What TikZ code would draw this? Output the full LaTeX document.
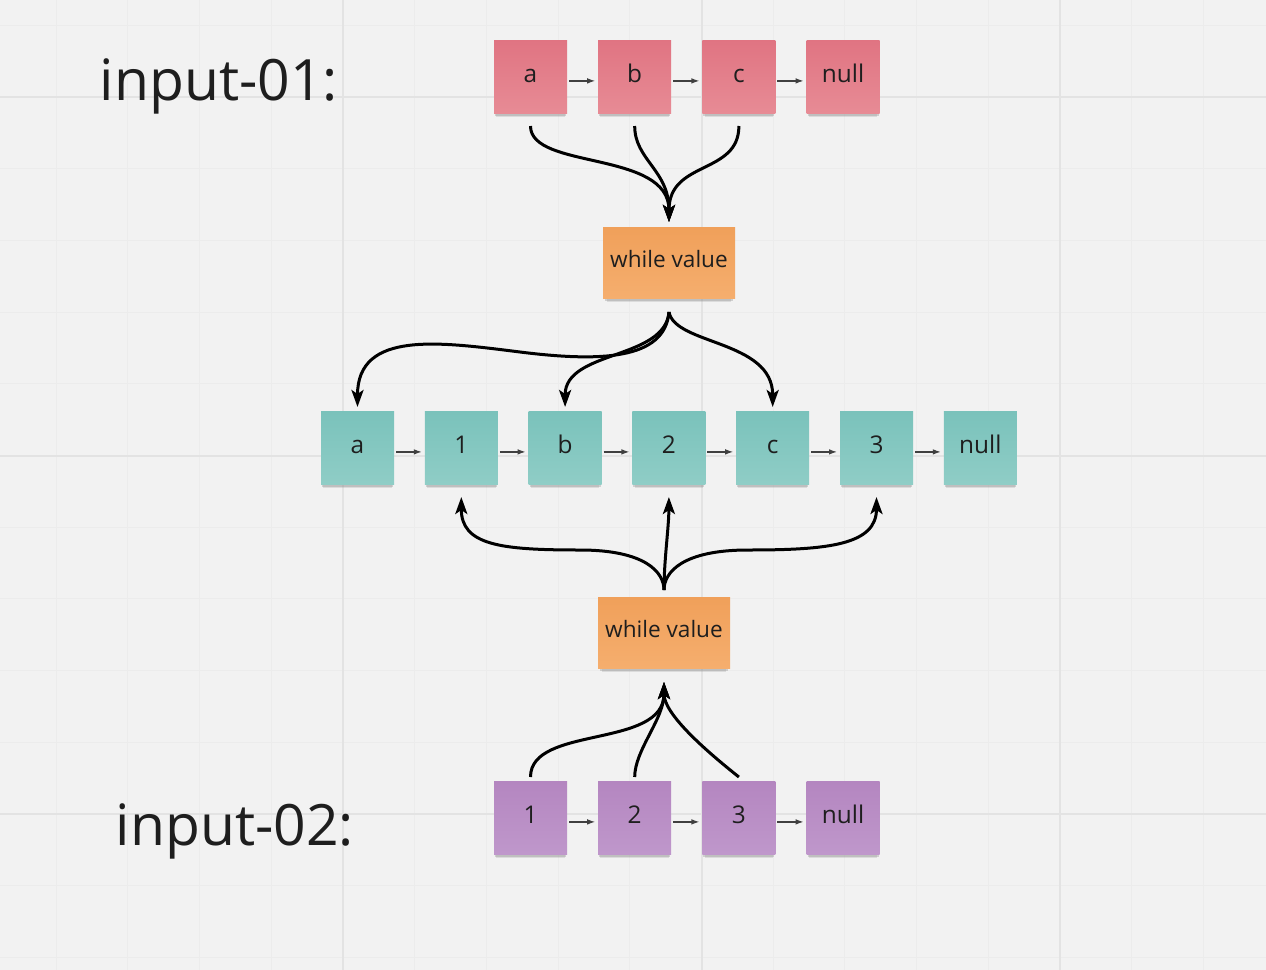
\documentclass[tikz,border=0pt]{standalone}
\usepackage{fontspec}
\setmainfont{Open Sans}
\usetikzlibrary{positioning,arrows.meta,shadows}

\definecolor{boardbg}{HTML}{F2F2F2}
\definecolor{gridminor}{HTML}{ECECEC}
\definecolor{gridmajor}{HTML}{E3E3E3}
\definecolor{inktext}{HTML}{1E1E1E}

\begin{document}
\begin{tikzpicture}[x=0.5pt,y=-0.5pt,node distance=15.6pt,
note/.style={minimum width=36.5pt,minimum height=36.5pt,inner sep=0pt,outer sep=0pt,text=inktext,font=\fontsize{12.2}{14}\selectfont,text height=6.2pt,text depth=0.5pt,drop shadow={shadow xshift=0pt,shadow yshift=-3.4pt,shadow scale=0.94,opacity=0.2},drop shadow={shadow xshift=0pt,shadow yshift=-2.2pt,shadow scale=0.97,opacity=0.3}},
pinknote/.style={note,top color={rgb,255:red,224;green,116;blue,130},bottom color={rgb,255:red,231;green,139;blue,149}},
tealnote/.style={note,top color={rgb,255:red,122;green,194;blue,187},bottom color={rgb,255:red,143;green,205;blue,198}},
purplenote/.style={note,top color={rgb,255:red,180;green,134;blue,192},bottom color={rgb,255:red,191;green,151;blue,203}},
loopnote/.style={note,minimum width=66pt,minimum height=35.5pt,font=\fontsize{11.3}{13}\selectfont,text height=5.8pt,top color={rgb,255:red,240;green,160;blue,90},bottom color={rgb,255:red,245;green,174;blue,110}},
biglabel/.style={text=inktext,font=\fontsize{28.5}{34}\selectfont,inner sep=0pt},
link/.style={line width=0.6pt,draw=black!75,-{Latex[length=4pt,width=2.8pt]}},
curve/.style={line width=1.5pt,-{Stealth[length=8.5pt,width=6pt,inset=2pt]}},
minorline/.style={draw=gridminor,line width=0.5pt},
majorline/.style={draw=gridmajor,line width=1pt}]

% board
\useasboundingbox[fill=boardbg] (0,0) rectangle (1266,970);
\foreach \k in {-4,...,12} \draw[minorline] ({343+71.7*\k},0) -- ({343+71.7*\k},970);
\foreach \k in {-1,...,12} \draw[minorline] (0,{97+71.7*\k}) -- (1266,{97+71.7*\k});
\foreach \k in {0,5,10} \draw[majorline] ({343+71.7*\k},0) -- ({343+71.7*\k},970);
\foreach \k in {0,5,10} \draw[majorline] (0,{97+71.7*\k}) -- (1266,{97+71.7*\k});

% labels
\node[biglabel,anchor=base] (in1) at (219,100) {input-01:};
\node[biglabel,anchor=base] (in2) at (235,845) {input-02:};

% input-01 list
\node[pinknote] (a1) at (530.5,76.5) {a};
\node[pinknote,right=of a1] (b1) {b};
\node[pinknote,right=of b1] (c1) {c};
\node[pinknote,right=of c1] (n1) {null};

% first loop
\node[loopnote] (w1) at (669,262.5) {while value};

% merged list
\node[tealnote] (ta) at (357.5,447.5) {a};
\node[tealnote,right=15.4pt of ta] (t1) {1};
\node[tealnote,right=15.4pt of t1] (tb) {b};
\node[tealnote,right=15.4pt of tb] (t2) {2};
\node[tealnote,right=15.4pt of t2] (tc) {c};
\node[tealnote,right=15.4pt of tc] (t3) {3};
\node[tealnote,right=15.4pt of t3] (tn) {null};

% second loop
\node[loopnote] (w2) at (664,632.5) {while value};

% input-02 list
\node[purplenote] (p1) at (530.5,817.5) {1};
\node[purplenote,right=of p1] (p2) {2};
\node[purplenote,right=of p2] (p3) {3};
\node[purplenote,right=of p3] (pn) {null};

% next pointers
\draw[link] ([xshift=1pt,yshift=-2.2pt]a1.east) -- ([xshift=-1.5pt,yshift=-2.2pt]b1.west);
\draw[link] ([xshift=1pt,yshift=-2.2pt]b1.east) -- ([xshift=-1.5pt,yshift=-2.2pt]c1.west);
\draw[link] ([xshift=1pt,yshift=-2.2pt]c1.east) -- ([xshift=-1.5pt,yshift=-2.2pt]n1.west);
\draw[link] ([xshift=1pt,yshift=-2.2pt]ta.east) -- ([xshift=-1.5pt,yshift=-2.2pt]t1.west);
\draw[link] ([xshift=1pt,yshift=-2.2pt]t1.east) -- ([xshift=-1.5pt,yshift=-2.2pt]tb.west);
\draw[link] ([xshift=1pt,yshift=-2.2pt]tb.east) -- ([xshift=-1.5pt,yshift=-2.2pt]t2.west);
\draw[link] ([xshift=1pt,yshift=-2.2pt]t2.east) -- ([xshift=-1.5pt,yshift=-2.2pt]tc.west);
\draw[link] ([xshift=1pt,yshift=-2.2pt]tc.east) -- ([xshift=-1.5pt,yshift=-2.2pt]t3.west);
\draw[link] ([xshift=1pt,yshift=-2.2pt]t3.east) -- ([xshift=-1.5pt,yshift=-2.2pt]tn.west);
\draw[link] ([xshift=1pt,yshift=-2.2pt]p1.east) -- ([xshift=-1.5pt,yshift=-2.2pt]p2.west);
\draw[link] ([xshift=1pt,yshift=-2.2pt]p2.east) -- ([xshift=-1.5pt,yshift=-2.2pt]p3.west);
\draw[link] ([xshift=1pt,yshift=-2.2pt]p3.east) -- ([xshift=-1.5pt,yshift=-2.2pt]pn.west);

% input-01 into first loop
\draw[curve] ([yshift=-6.5pt]a1.south) .. controls +(0,44) and +(0,-72) .. ([yshift=2.5pt]w1.north);
\draw[curve] ([yshift=-6.5pt]b1.south) .. controls +(0,34) and +(0,-52) .. ([yshift=2.5pt]w1.north);
\draw[curve] ([yshift=-6.5pt]c1.south) .. controls +(0,49) and +(0,-62) .. ([yshift=2.5pt]w1.north);

% first loop into merged list
\draw[curve] ([yshift=-7pt]w1.south) .. controls +(-4,48) and +(80,10) .. (520,352) .. controls +(-80,-10) and +(0,-77) .. ([yshift=2pt]ta.north);
\draw[curve] ([yshift=-7pt]w1.south) .. controls +(-4,48) and +(0,-57) .. ([yshift=2pt]tb.north);
\draw[curve] ([yshift=-7pt]w1.south) .. controls +(6,33) and +(0,-67) .. ([yshift=2pt]tc.north);

% second loop into merged list
\draw[curve] ([yshift=3.5pt]w2.north) .. controls +(0,-18) and +(65,0) .. (580,550) .. controls +(-80,0) and +(0,48) .. ([yshift=-6.5pt]t1.south);
\draw[curve] ([yshift=3.5pt]w2.north) .. controls +(0,-30) and +(0,30) .. ([yshift=-6.5pt]t2.south);
\draw[curve] ([yshift=3.5pt]w2.north) .. controls +(0,-18) and +(-65,0) .. (748,550) .. controls +(80,0) and +(0,48) .. ([yshift=-6.5pt]t3.south);

% input-02 into second loop
\draw[curve] ([yshift=2pt]p1.north) .. controls +(0,-52) and +(0,67) .. ([yshift=-7pt]w2.south);
\draw[curve] ([yshift=2pt]p2.north) .. controls +(0,-27) and +(0,37) .. ([yshift=-7pt]w2.south);
\draw[curve] ([yshift=2pt]p3.north) .. controls +(-34,-27) and +(0,32) .. ([yshift=-7pt]w2.south);
\end{tikzpicture}
\end{document}
